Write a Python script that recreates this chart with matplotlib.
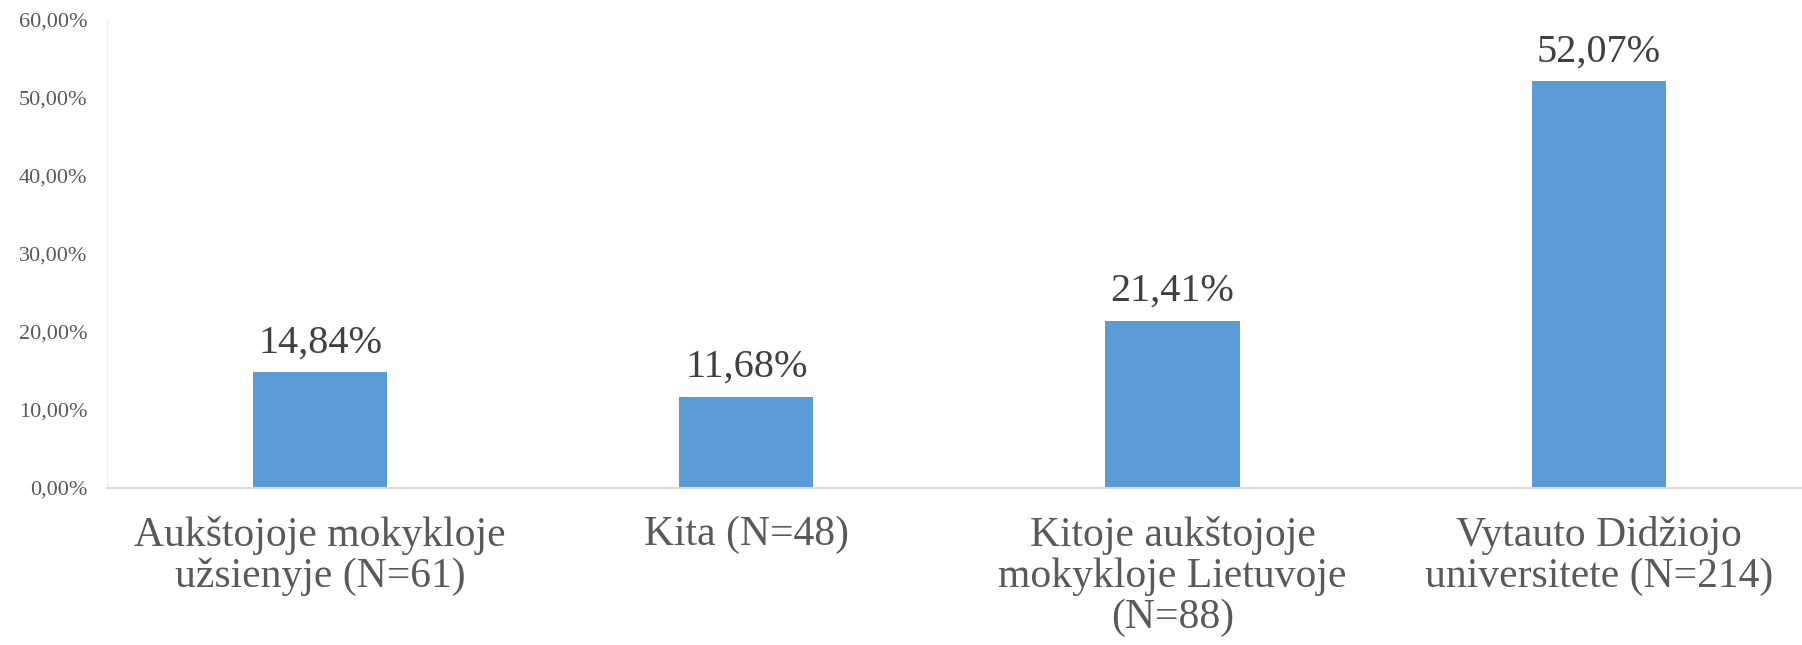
import matplotlib.pyplot as plt
from matplotlib.ticker import FuncFormatter

categories = ['Aukštojoje mokykloje\nužsienyje (N=61)', 'Kita (N=48)',
              'Kitoje aukštojoje\nmokykloje Lietuvoje\n(N=88)',
              'Vytauto Didžiojo\nuniversitete (N=214)']
values = [14.84, 11.68, 21.41, 52.07]
yticks = [0, 10, 20, 30, 40, 50, 60]

plt.rcParams['font.family'] = ['Liberation Serif', 'DejaVu Serif']

fig = plt.figure(figsize=(18.02, 6.45), dpi=100)
ax = fig.add_axes([0.0594, 0.2434, 0.946, 0.7266])

x = range(len(values))
bars = ax.bar(x, values, width=0.315, color='#5B9BD5', zorder=2)

for xi, v in zip(x, values):
    ax.text(xi, v + 1.4, ('%.2f' % v).replace('.', ',') + '%', ha='center', va='bottom',
            fontsize=29, color='#404040')

ax.set_xlim(-0.5, 3.5)
ax.set_ylim(0, 60)
ax.set_yticks(yticks)
ax.yaxis.set_major_formatter(FuncFormatter(lambda v, p: ('%.2f' % v).replace('.', ',') + '%'))
ax.set_xticks(list(x))
ax.set_xticklabels(categories, fontsize=30, color='#595959', linespacing=1.08)
ax.tick_params(axis='y', labelsize=16, colors='#595959', length=0, pad=14)
ax.tick_params(axis='x', length=0, pad=20)

for s in ['top', 'right']:
    ax.spines[s].set_visible(False)
ax.spines['left'].set_color('#EEEEEE')
ax.spines['bottom'].set_color('#D9D9D9')
ax.spines['bottom'].set_linewidth(1.5)

fig.savefig('out.png', dpi=100)
